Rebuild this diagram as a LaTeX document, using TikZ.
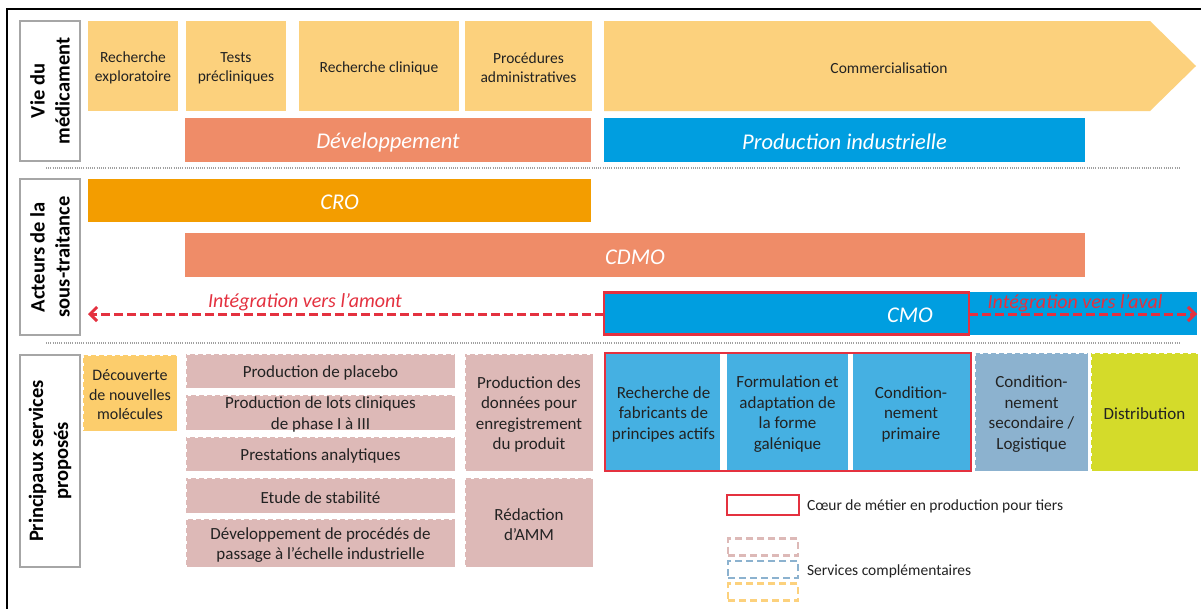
\documentclass[tikz,border=0pt]{standalone}
\usepackage{fontspec}
\setmainfont{Carlito}
\usetikzlibrary{arrows.meta}
\definecolor{cyel}{HTML}{FCD17D}
\definecolor{cdisc}{HTML}{FCCD6C}
\definecolor{csal}{HTML}{EF8C68}
\definecolor{cblue}{HTML}{009EE0}
\definecolor{corg}{HTML}{F39D00}
\definecolor{cpink}{HTML}{DDB9B7}
\definecolor{clblue}{HTML}{45B0E2}
\definecolor{cgblue}{HTML}{8CB2CF}
\definecolor{cgreen}{HTML}{D4DB2A}
\definecolor{cred}{HTML}{E4313F}
\definecolor{clgray}{HTML}{A6A6A6}
\definecolor{ctxt}{HTML}{222222}
\definecolor{cdot}{HTML}{A0A0A0}
\begin{document}
\begin{tikzpicture}[x=1pt,y=-1pt,
  base/.style={inner sep=0pt, outer sep=0pt, align=center, text=ctxt},
  sm/.style={base, yshift=-2pt, font=\fontsize{15.5}{19}\selectfont},
  md/.style={base, yshift=-2pt, font=\fontsize{17}{20.5}\selectfont},
  big/.style={base, yshift=-2pt, text=white, font=\fontsize{22.5}{27}\selectfont\itshape},
  topbox/.style={base, fill=cyel},
  barbox/.style={base, fill=#1},
  lblbox/.style={base, draw=clgray, line width=2.5pt, fill=white, rotate=90,
     font=\fontsize{20.5}{25}\selectfont\bfseries, text=black},
  svcbox/.style={base, fill=#1},
  dashbox/.style={svcbox=#1, draw=white, line width=1pt, dash pattern=on 3pt off 5pt},
  sepline/.style={draw=cdot, line width=1.2pt, dash pattern=on 1pt off 1.2pt},
  integ/.style={base, text=cred, font=\fontsize{20}{24}\selectfont\itshape},
  darrow/.style={draw=cred, line width=3pt, dash pattern=on 9pt off 4pt,
     -{Straight Barb[length=7pt,width=14pt,line width=3pt]}},
  legtext/.style={base, anchor=west, font=\fontsize{15.5}{19}\selectfont},
  legdash/.style={base, draw=#1, fill=white, line width=2.6pt, dash pattern=on 7pt off 4pt,
     minimum width=70pt, minimum height=17pt}
]
\useasboundingbox (0,0) rectangle (1201,608);
\fill[white] (0,0) rectangle (1201,608);
% frame
\draw[black, line width=2.5pt] (7,620) -- (7,9) -- (1215,9);

% ---------- Row 1 ----------
\node[lblbox, minimum width=140pt, minimum height=60pt] (lbl1) at (50,91) {Vie du\\médicament};
\node[topbox, minimum width=90pt, minimum height=90pt, label={[sm]center:{Recherche\\exploratoire}}] (re) at (133,66) {};
\node[topbox, minimum width=100pt, minimum height=90pt, label={[sm]center:{Tests\\précliniques}}] (tp) at (236,66) {};
\node[topbox, minimum width=160pt, minimum height=90pt, label={[sm]center:{Recherche clinique}}] (rc) at (379,66) {};
\node[topbox, minimum width=127pt, minimum height=90pt, label={[sm]center:{Procédures\\administratives}}] (pa) at (528.5,66) {};
\fill[cyel] (604,21) -- (1150,21) -- (1196,66) -- (1150,111) -- (604,111) -- cycle;
\node[sm] (comm) at (889,66) {Commercialisation};
\node[barbox=csal, minimum width=406pt, minimum height=44pt, label={[big]center:{Développement}}] (dev) at (388,140) {};
\node[barbox=cblue, minimum width=481pt, minimum height=44pt, label={[big]center:{Production industrielle}}] (prod) at (844.5,140) {};

\path[sepline] (46,168) -- (1181,168);

% ---------- Row 2 ----------
\node[lblbox, minimum width=156pt, minimum height=60pt] (lbl2) at (50,257) {Acteurs de la\\sous-traitance};
\node[barbox=corg, minimum width=503pt, minimum height=43pt, label={[big]center:{CRO}}] (cro) at (339.5,200.5) {};
\node[barbox=csal, minimum width=900pt, minimum height=44pt, label={[big]center:{CDMO}}] (cdmo) at (635,255) {};
\node[base, fill=cblue, minimum width=593pt, minimum height=43pt] (cmobar) at (900.5,313.5) {};
\node[base, draw=cred, line width=2.5pt, minimum width=365pt, minimum height=42pt] (cmored) at (786.5,313.5) {};
\node[big] (cmo) at (910,313) {CMO};
\coordinate (amontend) at (88,314);
\coordinate (avalend) at (1197,314);
\draw[darrow] (cmored.west |- amontend) -- (amontend);
\draw[darrow] (cmored.east |- avalend) -- (avalend);
\node[integ] (amont) at (305,302) {Intégration vers l’amont};
\node[integ] (aval) at (1075,303) {Intégration vers l’aval};

\path[sepline] (46,343) -- (1181,343);

% ---------- Row 3 ----------
\node[lblbox, minimum width=212pt, minimum height=60pt] (lbl3) at (50,461) {Principaux services\\proposés};
\node[dashbox=cdisc, minimum width=94pt, minimum height=76pt, label={[base, yshift=-2pt, font=\fontsize{16}{19.5}\selectfont]center:{Découverte\\de nouvelles\\molécules}}] (disc) at (130,393) {};

\node[dashbox=cpink, minimum width=269pt, minimum height=34pt, label={[md]center:{Production de placebo}}] (plac) at (320.5,371) {};
\node[dashbox=cpink, minimum width=269pt, minimum height=35pt, label={[md]center:{Production de lots cliniques\\de phase I à III}}] (lots) at (320.5,412.5) {};
\node[dashbox=cpink, minimum width=269pt, minimum height=34pt, label={[md]center:{Prestations analytiques}}] (prest) at (320.5,454) {};
\node[dashbox=cpink, minimum width=269pt, minimum height=35pt, label={[md]center:{Etude de stabilité}}] (stab) at (320.5,495.5) {};
\node[dashbox=cpink, minimum width=269pt, minimum height=48pt, label={[md]center:{Développement de procédés de\\passage à l’échelle industrielle}}] (procd) at (320.5,543) {};
\node[dashbox=cpink, minimum width=128pt, minimum height=117pt, label={[md]center:{Production des\\données pour\\enregistrement\\du produit}}] (donn) at (529,412.5) {};
\node[dashbox=cpink, minimum width=128pt, minimum height=89pt, label={[md]center:{Rédaction\\d’AMM}}] (amm) at (529,522.5) {};

\node[svcbox=clblue, minimum width=117pt, minimum height=118pt, label={[md]center:{Recherche de\\fabricants de\\principes actifs}}] (fab) at (663.5,412) {};
\node[svcbox=clblue, minimum width=121pt, minimum height=118pt, label={[md]center:{Formulation et\\adaptation de\\la forme\\galénique}}] (form) at (787.5,412) {};
\node[svcbox=clblue, minimum width=120pt, minimum height=118pt, label={[md]center:{Condition-\\nement\\primaire}}] (cond1) at (911,412) {};
\draw[white, line width=4pt] (fab.north east) -- (fab.south east);
\draw[white, line width=4pt] (cond1.north west) -- (cond1.south west);
\node[base, draw=cred, line width=2.5pt, minimum width=366pt, minimum height=118pt] (core) at (788,412) {};
\node[dashbox=cgblue, minimum width=113pt, minimum height=118pt, label={[md]center:{Condition-\\nement\\secondaire /\\Logistique}}] (cond2) at (1031.5,412) {};
\node[dashbox=cgreen, minimum width=107pt, minimum height=118pt, label={[md]center:{Distribution}}] (distr) at (1144.5,412) {};

% ---------- Legend ----------
\node[base, draw=cred, fill=white, line width=2.5pt, minimum width=72pt, minimum height=20pt] (legcore) at (763,505) {};
\node[legtext] (legcoretxt) at (807,506) {Cœur de métier en production pour tiers};
\node[legdash=cpink] (legpink) at (763,547) {};
\node[legdash=cgblue] (legblue) at (763,569.5) {};
\node[legdash=cyel] (legyel) at (763,592) {};
\node[legtext] (legsvc) at (807,571) {Services complémentaires};
\end{tikzpicture}
\end{document}
